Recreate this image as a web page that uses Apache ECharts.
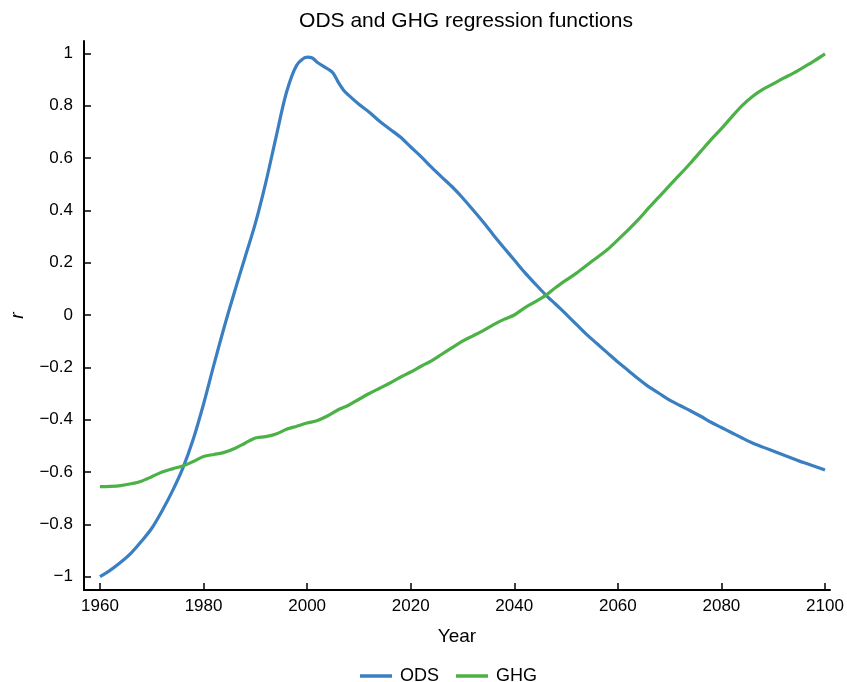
<!DOCTYPE html>
<html>
<head>
<meta charset="utf-8">
<script src="https://cdn.jsdelivr.net/npm/echarts@6/dist/echarts.min.js"></script>
<style>html,body{margin:0;padding:0;background:#fff}#c{width:847px;height:682px}</style>
</head>
<body>
<div id="c"></div>
<script>
const years = [1960,1962,1964,1966,1968,1970,1972,1974,1976,1978,1980,1982,1984,1986,1988,1990,1992,1994,1996,1998,2000,2002,2004,2006,2008,2010,2012,2014,2016,2018,2020,2022,2024,2026,2028,2030,2032,2034,2036,2038,2040,2042,2044,2046,2048,2050,2052,2054,2056,2058,2060,2062,2064,2066,2068,2070,2072,2074,2076,2078,2080,2082,2084,2086,2088,2090,2092,2094,2096,2098,2100];
const odsYears = [1960,1962,1964,1966,1968,1970,1972,1974,1976,1978,1980,1982,1984,1986,1988,1990,1992,1994,1996,1998,2000,2001,2002,2004,2005,2006,2007,2008,2010,2012,2014,2016,2018,2020,2022,2024,2026,2028,2030,2032,2034,2036,2038,2040,2042,2044,2046,2048,2050,2052,2054,2056,2058,2060,2062,2064,2066,2068,2070,2072,2074,2076,2078,2080,2082,2084,2086,2088,2090,2092,2094,2096,2098,2100];
const odsValues = [-1.0,-0.975,-0.945,-0.91,-0.865,-0.815,-0.748,-0.672,-0.585,-0.475,-0.34,-0.19,-0.045,0.09,0.22,0.35,0.505,0.68,0.85,0.955,0.985,0.982,0.965,0.94,0.925,0.89,0.86,0.84,0.805,0.775,0.74,0.71,0.68,0.642,0.605,0.565,0.527,0.49,0.448,0.402,0.355,0.305,0.257,0.21,0.163,0.12,0.078,0.041,0.003,-0.036,-0.075,-0.11,-0.145,-0.18,-0.212,-0.245,-0.275,-0.3,-0.325,-0.346,-0.366,-0.387,-0.41,-0.43,-0.45,-0.47,-0.489,-0.505,-0.52,-0.535,-0.55,-0.565,-0.578,-0.592];
const ghgValues = [-0.656,-0.655,-0.652,-0.645,-0.635,-0.618,-0.6,-0.588,-0.577,-0.56,-0.541,-0.533,-0.525,-0.51,-0.49,-0.47,-0.465,-0.455,-0.437,-0.425,-0.413,-0.403,-0.385,-0.362,-0.345,-0.322,-0.3,-0.28,-0.26,-0.238,-0.218,-0.196,-0.175,-0.15,-0.125,-0.1,-0.08,-0.06,-0.037,-0.017,0.0,0.027,0.05,0.074,0.105,0.133,0.16,0.19,0.22,0.25,0.287,0.325,0.365,0.41,0.452,0.495,0.537,0.58,0.625,0.67,0.712,0.757,0.8,0.835,0.862,0.883,0.905,0.925,0.948,0.972,0.998];
const xTicks = [1960,1980,2000,2020,2040,2060,2080,2100];
const yTicks = [-1,-0.8,-0.6,-0.4,-0.2,0,0.2,0.4,0.6,0.8,1];

const FONT = '"Liberation Sans", Arial, Helvetica, sans-serif';
const chart = echarts.init(document.getElementById('c'));
const fmtY = v => { const r = +(+v).toFixed(1); return r < 0 ? '\u2212' + Math.abs(r) : String(r); };
chart.setOption({
  animation: false,
  backgroundColor: '#fff',
  title: {
    text: 'ODS and GHG regression functions',
    left: 461, top: 6, textAlign: 'center',
    textStyle: { fontFamily: FONT, fontSize: 21, fontWeight: 'normal', color: '#000' }
  },
  legend: {
    left: 355, top: 662,
    icon: 'rect',
    itemWidth: 32, itemHeight: 3.5, itemGap: 17,
    textStyle: { fontFamily: FONT, fontSize: 18, color: '#000', padding: [0,0,0,3] },
    data: ['ODS', 'GHG']
  },
  grid: { left: 84, right: 17, top: 41, bottom: 92, containLabel: false, outerBoundsMode: 'none' },
  xAxis: {
    type: 'value', min: 1956.91, max: 2100.97,
    name: 'Year', nameLocation: 'middle', nameGap: 37,
    nameTextStyle: { fontFamily: FONT, fontSize: 19, color: '#000' },
    axisLine: { show: true, onZero: false, lineStyle: { color: '#000', width: 2 } },
    axisTick: { show: true, inside: true, length: 7, customValues: xTicks, lineStyle: { color: '#000', width: 1.5 } },
    axisLabel: { customValues: xTicks, formatter: v => String(Math.round(v)), fontFamily: FONT, fontSize: 17, color: '#000', margin: 8 },
    splitLine: { show: false }
  },
  yAxis: {
    type: 'value', min: -1.051, max: 1.047,
    name: 'r', nameLocation: 'middle', nameGap: 57, nameRotate: 90,
    nameTextStyle: { fontFamily: FONT, fontSize: 19, fontStyle: 'italic', color: '#000' },
    axisLine: { show: true, onZero: false, lineStyle: { color: '#000', width: 2 } },
    axisTick: { show: true, inside: true, length: 7, customValues: yTicks, lineStyle: { color: '#000', width: 1.5 } },
    axisLabel: { customValues: yTicks, formatter: fmtY, fontFamily: FONT, fontSize: 17, color: '#000', margin: 11 },
    splitLine: { show: false }
  },
  series: [
    {
      name: 'ODS', type: 'line', symbol: 'none', smooth: 0.3,
      data: odsYears.map((y, i) => [y, odsValues[i]]),
      lineStyle: { color: '#3a7fc1', width: 3.2 }, itemStyle: { color: '#3a7fc1' }
    },
    {
      name: 'GHG', type: 'line', symbol: 'none', smooth: 0.3,
      data: years.map((y, i) => [y, ghgValues[i]]),
      lineStyle: { color: '#4cb147', width: 3.2 }, itemStyle: { color: '#4cb147' }
    }
  ]
});
</script>
</body>
</html>
